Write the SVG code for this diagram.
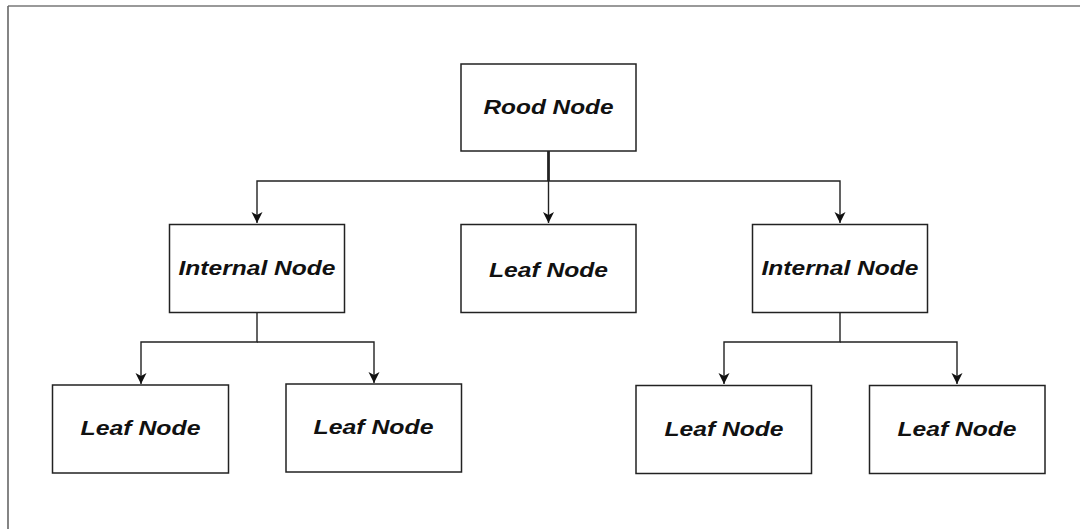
<svg xmlns="http://www.w3.org/2000/svg" width="1080" height="529" viewBox="0 0 1080 529">
<style>
.box{fill:#fff;stroke:#222;stroke-width:1.5}
.lbl{font-family:"Liberation Sans",Arial,sans-serif;font-weight:bold;font-style:italic;font-size:20.5px;fill:#111;text-anchor:middle}
.edge{fill:none;stroke:#222;stroke-width:1.4}
</style>
<defs>
<marker id="arr" markerUnits="userSpaceOnUse" markerWidth="12" markerHeight="12" viewBox="0 0 12 12" refX="11" refY="6" orient="auto">
<path d="M0,0.5 L11,6 L0,11.5 L3,6 z" fill="#111"/>
</marker>
</defs>
<rect width="1080" height="529" fill="#fff"/>
<g id="frame">
<line x1="8" y1="6" x2="1080" y2="6" stroke="#999" stroke-width="2"/>
<line x1="8" y1="6" x2="8" y2="529" stroke="#666" stroke-width="1.6"/>
</g>
<g id="connectors">
<line x1="548.5" y1="151" x2="548.5" y2="181" stroke="#111" stroke-width="2.6"/>
<path class="edge" d="M548.5,181 H257 V223" marker-end="url(#arr)"/>
<path class="edge" d="M548.5,151 V223" marker-end="url(#arr)"/>
<path class="edge" d="M548.5,181 H840 V223" marker-end="url(#arr)"/>
<path class="edge" d="M257,313 V342 H141 V384" marker-end="url(#arr)"/>
<path class="edge" d="M257,342 H374 V383" marker-end="url(#arr)"/>
<path class="edge" d="M840,313 V342 H724 V384" marker-end="url(#arr)"/>
<path class="edge" d="M840,342 H957 V384" marker-end="url(#arr)"/>
</g>
<g id="root">
<rect class="box" x="461" y="64" width="175" height="87"/>
<text class="lbl" x="548.5" y="114" textLength="130" lengthAdjust="spacingAndGlyphs">Rood Node</text>
</g>
<g id="internal-left">
<rect class="box" x="169.5" y="224.5" width="175" height="88"/>
<text class="lbl" x="257" y="275" textLength="157" lengthAdjust="spacingAndGlyphs">Internal Node</text>
</g>
<g id="leaf-center">
<rect class="box" x="461" y="224.5" width="175" height="88"/>
<text class="lbl" x="548.5" y="277" textLength="119" lengthAdjust="spacingAndGlyphs">Leaf Node</text>
</g>
<g id="internal-right">
<rect class="box" x="752.5" y="224.5" width="175" height="88"/>
<text class="lbl" x="840" y="275" textLength="157" lengthAdjust="spacingAndGlyphs">Internal Node</text>
</g>
<g id="leaf-1">
<rect class="box" x="52.5" y="385" width="176" height="88"/>
<text class="lbl" x="140.5" y="435" textLength="120" lengthAdjust="spacingAndGlyphs">Leaf Node</text>
</g>
<g id="leaf-2">
<rect class="box" x="286" y="384" width="175.5" height="88"/>
<text class="lbl" x="373.5" y="434" textLength="120" lengthAdjust="spacingAndGlyphs">Leaf Node</text>
</g>
<g id="leaf-3">
<rect class="box" x="636" y="385.5" width="175.5" height="88"/>
<text class="lbl" x="724" y="436" textLength="119" lengthAdjust="spacingAndGlyphs">Leaf Node</text>
</g>
<g id="leaf-4">
<rect class="box" x="869.5" y="385.5" width="175.5" height="88"/>
<text class="lbl" x="957" y="436" textLength="119" lengthAdjust="spacingAndGlyphs">Leaf Node</text>
</g>
</svg>
